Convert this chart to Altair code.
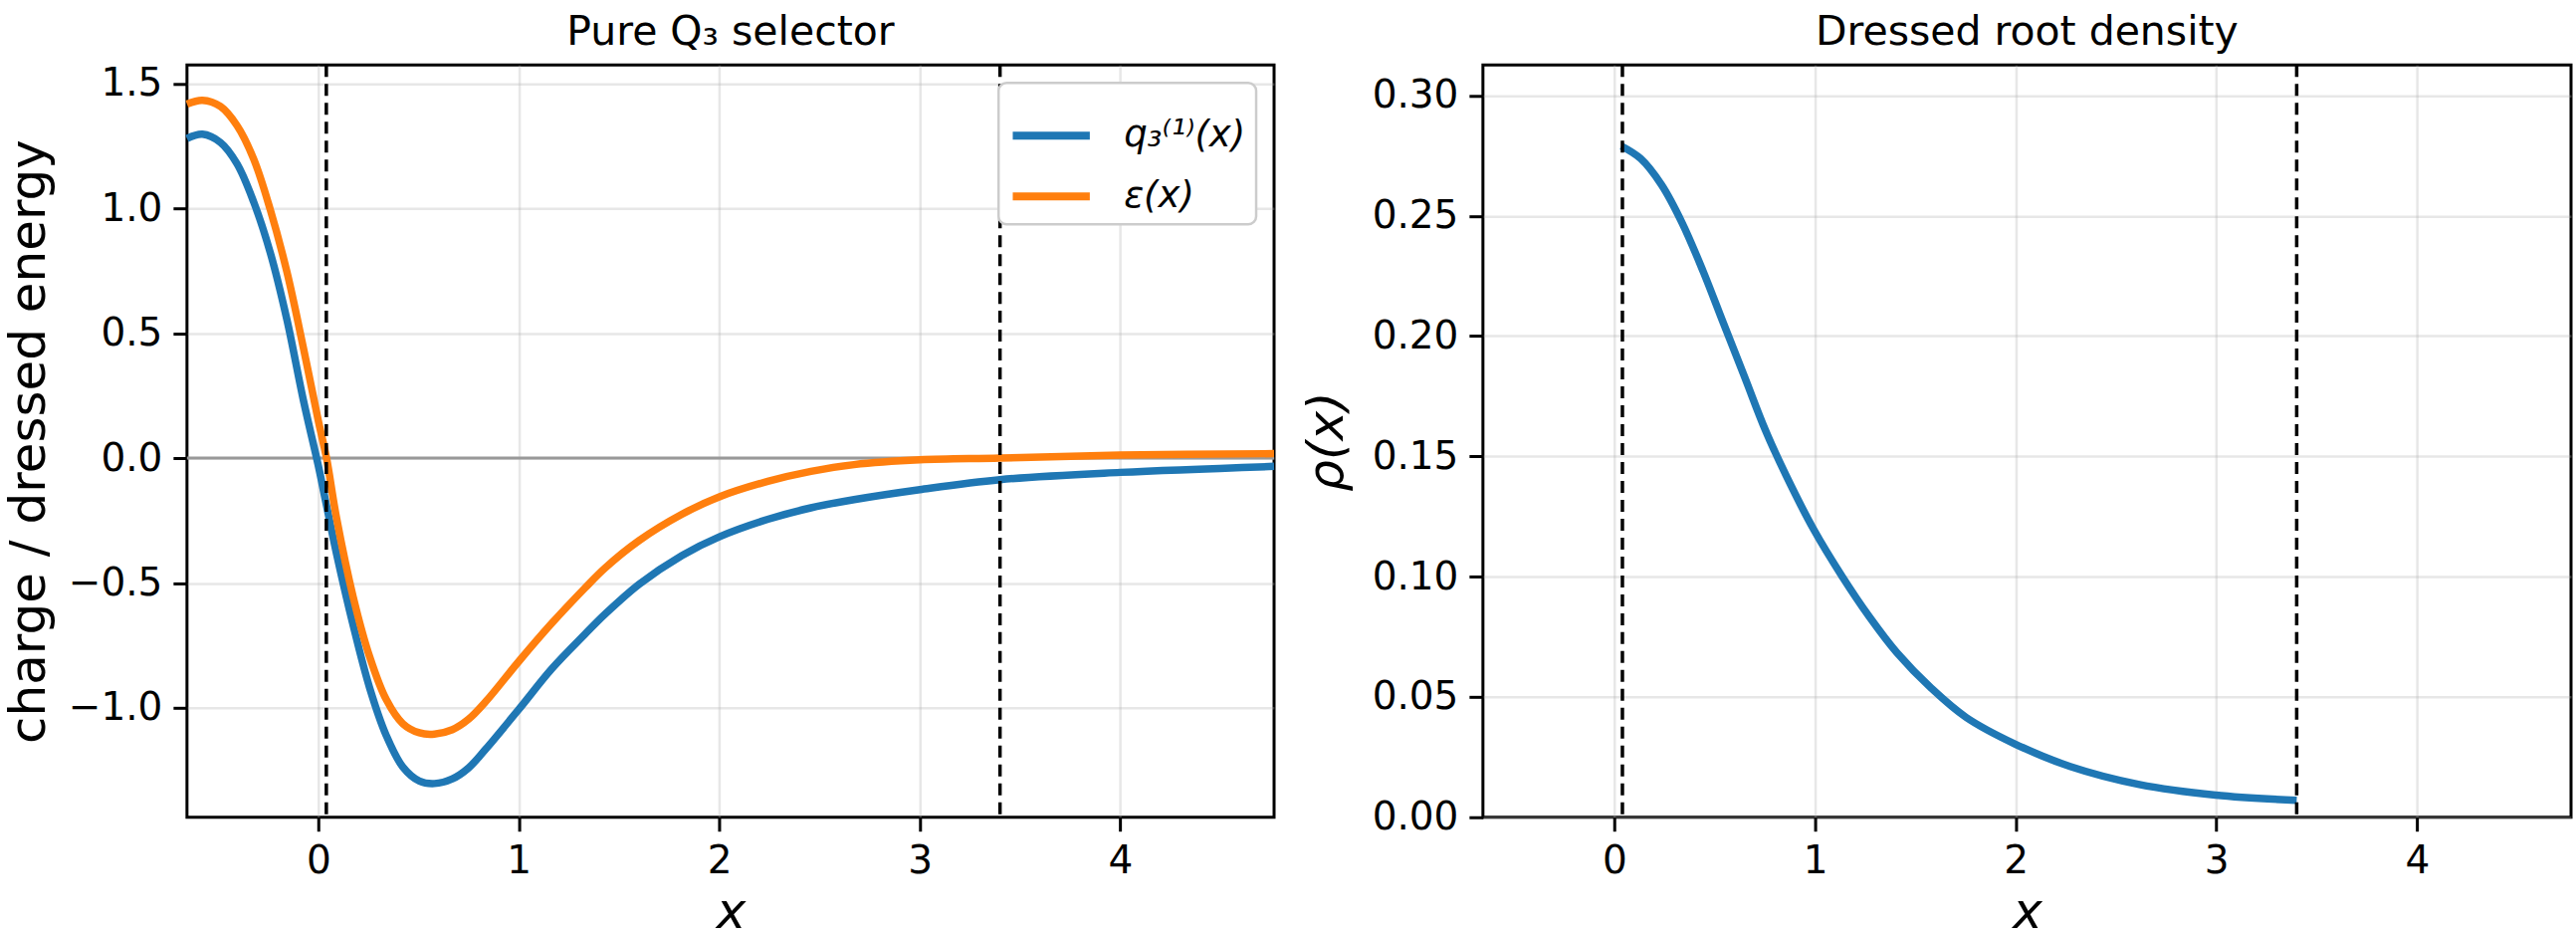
import altair as alt
import pandas as pd

# ---------------- data ----------------
X_LEFT = [-0.655, -0.578, -0.488, -0.405, -0.322, -0.24, -0.157, -0.074, 0.0, 0.041,
          0.091, 0.174, 0.256, 0.339, 0.421, 0.504, 0.579, 0.669, 0.75, 0.835, 1.0,
          1.165, 1.33, 1.43, 1.6, 1.813, 2.0, 2.242, 2.457, 2.672, 3.0,
          3.4, 4.0, 4.767]
Q3 = [1.28, 1.297, 1.264, 1.178, 1.025, 0.824, 0.556, 0.23, -0.03, -0.19,
      -0.383, -0.67, -0.92, -1.111, -1.236, -1.293, -1.303, -1.284, -1.24, -1.165, -1.006,
      -0.843, -0.705, -0.625, -0.505, -0.39, -0.315, -0.245, -0.199, -0.166, -0.126,
      -0.086, -0.057, -0.033]
EPS = [1.418, 1.433, 1.408, 1.331, 1.197, 0.996, 0.747, 0.44, 0.15, 0.0,
       -0.24, -0.556, -0.795, -0.967, -1.063, -1.10, -1.105, -1.087, -1.045, -0.975, -0.814,
       -0.661, -0.520, -0.440, -0.33, -0.225, -0.155, -0.093, -0.053, -0.026, -0.007,
       0.0, 0.012, 0.018]

X_RHO = [0.035, 0.131, 0.235, 0.338, 0.442, 0.545, 0.649, 0.752, 0.856, 0.994,
         1.132, 1.270, 1.408, 1.581, 1.753, 1.995, 2.271, 2.616, 2.996, 3.40]
RHO = [0.279, 0.2738, 0.2629, 0.247, 0.227, 0.205, 0.183, 0.161, 0.142, 0.1195,
       0.1005, 0.0834, 0.0684, 0.0535, 0.0415, 0.0305, 0.0211, 0.0136, 0.0092, 0.0070]

BOUNDS = [0.04, 3.40]
ZERO = [0.0]

SERIES = ["q\u2083\u207d\u00b9\u207e(x)", "\u03b5(x)"]
COLORS = ["#1f77b4", "#ff7f0e"]

XDOM = [-0.655, 4.767]
YDOM_L = [-1.438, 1.574]
YDOM_R = [0.0, 0.3127]
X_TICKS = [0, 1, 2, 3, 4]
YL_TICKS = [-1.0, -0.5, 0.0, 0.5, 1.0, 1.5]
YR_TICKS = [0.0, 0.05, 0.10, 0.15, 0.20, 0.25, 0.30]

FONT = "DejaVu Sans"
TICK_FS = 39
LABEL_FS = 50
TITLE_FS = 41

# ---------------- tables ----------------
n = len(X_LEFT)
df_left = pd.DataFrame({
    "x": X_LEFT + X_LEFT,
    "y": Q3 + EPS,
    "series": [SERIES[0]] * n + [SERIES[1]] * n,
})
df_rho = pd.DataFrame({"x": X_RHO, "y": RHO})
df_bounds = pd.DataFrame({"x": BOUNDS})
df_zero = pd.DataFrame({"y": ZERO})

W_L, W_R, H = 1093, 1094, 756

xaxis = alt.Axis(values=X_TICKS, title="x", titleFontStyle="italic", format="d", titlePadding=7)
x_left = alt.X("x:Q", scale=alt.Scale(domain=XDOM, nice=False, zero=False), axis=xaxis)

# ---------------- left panel ----------------
zero_rule = alt.Chart(df_zero).mark_rule(color="#999999", strokeWidth=3).encode(
    y=alt.Y("y:Q", scale=alt.Scale(domain=YDOM_L, nice=False, zero=False))
)
curves = alt.Chart(df_left).mark_line(strokeWidth=7.5, interpolate="catmull-rom").encode(
    x=x_left,
    y=alt.Y("y:Q", scale=alt.Scale(domain=YDOM_L, nice=False, zero=False),
            axis=alt.Axis(values=YL_TICKS, format=".1f", title="charge / dressed energy",
                          titlePadding=14)),
    color=alt.Color("series:N", sort=SERIES,
                    scale=alt.Scale(domain=SERIES, range=COLORS),
                    legend=alt.Legend(title=None, orient="top-right")),
    detail="series:N",
)
bounds_l = alt.Chart(df_bounds).mark_rule(color="black", strokeWidth=3.5, strokeDash=[12, 7]).encode(
    x=alt.X("x:Q", scale=alt.Scale(domain=XDOM, nice=False, zero=False))
)
left = alt.layer(zero_rule, curves, bounds_l).properties(
    width=W_L, height=H,
    title=alt.Title("Pure Q\u2083 selector", fontSize=TITLE_FS, font=FONT,
                    fontWeight="normal", color="black", baseline="alphabetic", offset=-22),
)

# ---------------- right panel ----------------
rho_line = alt.Chart(df_rho).mark_line(strokeWidth=7.5, color=COLORS[0], interpolate="catmull-rom").encode(
    x=alt.X("x:Q", scale=alt.Scale(domain=XDOM, nice=False, zero=False), axis=xaxis),
    y=alt.Y("y:Q", scale=alt.Scale(domain=YDOM_R, nice=False, zero=False),
            axis=alt.Axis(values=YR_TICKS, format=".2f", title="\u03c1(x)", titleFontStyle="italic",
                          titlePadding=20)),
)
bounds_r = alt.Chart(df_bounds).mark_rule(color="black", strokeWidth=3.5, strokeDash=[12, 7]).encode(
    x=alt.X("x:Q", scale=alt.Scale(domain=XDOM, nice=False, zero=False))
)
right = alt.layer(rho_line, bounds_r).properties(
    width=W_R, height=H,
    title=alt.Title("Dressed root density", fontSize=TITLE_FS, font=FONT,
                    fontWeight="normal", color="black", baseline="alphabetic", offset=-22),
)

chart = alt.hconcat(left, right, spacing=210, bounds="flush").resolve_scale(
    x="independent", y="independent", color="independent"
).properties(
    padding={"left": 2, "top": 9, "right": 3, "bottom": 0},
    background="white",
).configure(
    font=FONT,
).configure_view(
    stroke="black", strokeWidth=3, fill="white",
).configure_axis(
    domain=False,
    grid=True,
    gridColor="#b0b0b0",
    gridOpacity=0.3,
    gridWidth=2.5,
    ticks=True,
    tickColor="black",
    tickWidth=3,
    tickSize=14,
    labelFont=FONT,
    labelFontSize=TICK_FS,
    labelColor="black",
    labelPadding=11,
    titleFont=FONT,
    titleFontSize=LABEL_FS,
    titleFontWeight="normal",
    titleColor="black",
    labelFlush=False,
    labelOverlap=False,
).configure_legend(
    orient="top-right",
    offset=18,
    padding=10,
    strokeColor="#cccccc",
    strokeWidth=2.5,
    cornerRadius=8,
    fillColor="white",
    symbolType="stroke",
    symbolStrokeWidth=8,
    symbolSize=6000,
    labelFont=FONT,
    labelFontSize=37,
    labelFontStyle="italic",
    labelColor="black",
    labelOffset=30,
    rowPadding=0,
    labelLimit=400,
)

chart.save("out.html", embed_options={"renderer": "svg", "actions": False})
